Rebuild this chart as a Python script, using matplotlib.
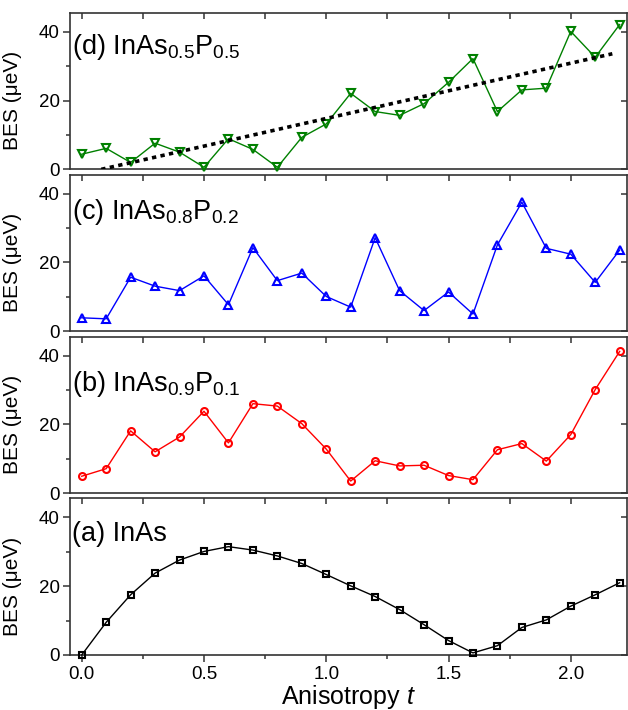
import matplotlib
matplotlib.use('Agg')
import matplotlib.pyplot as plt
from matplotlib.ticker import MultipleLocator

plt.rcParams['font.family'] = ['Liberation Sans', 'DejaVu Sans']
plt.rcParams['mathtext.fontset'] = 'custom'
plt.rcParams['mathtext.rm'] = 'Liberation Sans'
plt.rcParams['mathtext.it'] = 'Liberation Sans:italic'

# anisotropy t, 0.0 ... 2.2
t = [0.0, 0.1, 0.2, 0.3, 0.4, 0.5, 0.6, 0.7, 0.8, 0.9, 1.0, 1.1,
     1.2, 1.3, 1.4, 1.5, 1.6, 1.7, 1.8, 1.9, 2.0, 2.1, 2.2]

bes_a = [0.0, 9.5, 17.5, 23.8, 27.6, 30.1, 31.5, 30.5, 28.8, 26.6, 23.4, 20.1,
         17.0, 13.2, 8.8, 4.2, 0.6, 2.7, 8.0, 10.2, 14.2, 17.5, 21.0]
bes_b = [4.9, 7.1, 18.1, 12.0, 16.3, 23.8, 14.6, 26.0, 25.3, 20.2, 12.8, 3.5,
         9.4, 7.9, 8.1, 5.1, 3.9, 12.6, 14.4, 9.3, 17.0, 30.1, 41.2]
bes_c = [3.9, 3.6, 15.7, 13.1, 11.8, 16.1, 7.7, 24.3, 14.7, 16.9, 10.1, 7.0,
         27.2, 11.8, 6.0, 11.4, 5.0, 25.1, 37.5, 24.1, 22.4, 14.2, 23.6]
bes_d = [4.4, 6.1, 2.0, 7.6, 5.0, 0.6, 8.9, 5.8, 0.6, 9.3, 13.2, 22.1,
         16.8, 15.7, 19.1, 25.3, 32.2, 16.8, 23.1, 23.6, 40.1, 32.6, 42.1]

# linear trend in panel (d)
fit_t = [0.08, 2.17]
fit_bes = [0.0, 33.6]

labels = ['(a) InAs',
          r'(b) InAs$_{0.9}$P$_{0.1}$',
          r'(c) InAs$_{0.8}$P$_{0.2}$',
          r'(d) InAs$_{0.5}$P$_{0.5}$']

fig = plt.figure(figsize=(6.28, 7.10), dpi=100)

left = 69.5 / 628
width = 557.5 / 628
h = 0.2204
gap = 0.0076
bottom0 = 0.0775

series = [
    (bes_a, 'k', 's', 4.6, 0.729),
    (bes_b, '#ff0000', 'o', 5.0, 0.655),
    (bes_c, '#0000ff', '^', 6.3, 0.719),
    (bes_d, '#008000', 'v', 6.3, 0.738),
]

axes = []
for i, (y, col, mk, ms, ylab) in enumerate(series):
    ax = fig.add_axes([left, bottom0 + i * (h + gap), width, h])
    ax.plot(t, y, color=col, lw=1.0, marker=mk, ms=ms, mfc='none',
            mec=col, mew=1.5, clip_on=False, zorder=3)
    ax.set_xlim(-0.05, 2.23)
    ax.set_ylim(0, 45.5)
    ax.xaxis.set_major_locator(MultipleLocator(0.5))
    ax.xaxis.set_minor_locator(MultipleLocator(0.25))
    ax.yaxis.set_major_locator(MultipleLocator(20))
    ax.yaxis.set_minor_locator(MultipleLocator(10))
    for s in ax.spines.values():
        s.set_linewidth(1.2)
        s.set_color('#333333')
    ax.tick_params(axis='y', which='both', left=True, right=False,
                   direction='out', labelsize=13.5, pad=2, color='#333333')
    ax.tick_params(axis='y', which='major', length=5, width=1.1)
    ax.tick_params(axis='y', which='minor', length=3, width=1.1)
    ax.tick_params(axis='x', which='both', top=False, bottom=(i == 0),
                   labelbottom=(i == 0), direction='out', labelsize=13.5,
                   pad=3, color='#333333', width=1.1)
    ax.tick_params(axis='x', which='major', length=5)
    ax.tick_params(axis='x', which='minor', length=3)
    # inward ticks along the top and right edges
    sec = ax.secondary_xaxis('top')
    sec.xaxis.set_major_locator(MultipleLocator(0.25))
    sec.tick_params(direction='in', length=4, width=1.1, labeltop=False,
                    color='#333333')
    sec.spines['top'].set_visible(False)
    secy = ax.secondary_yaxis('right')
    secy.yaxis.set_major_locator(MultipleLocator(20))
    secy.tick_params(direction='in', length=4, width=1.1, labelright=False,
                     color='#333333')
    secy.spines['right'].set_visible(False)
    ax.set_ylabel('BES (μeV)', fontsize=15, labelpad=4)
    ax.yaxis.set_label_coords(-0.085, 0.44)
    ax.text(0.004, ylab, labels[i], transform=ax.transAxes, fontsize=19.5,
            ha='left', va='baseline')
    axes.append(ax)

axes[3].plot(fit_t, fit_bes, color='k', lw=2.6, linestyle=(0, (1.2, 1.2)),
             zorder=4)
axes[0].set_xlabel('Anisotropy $t$', fontsize=18, labelpad=0)

fig.savefig('out.png', dpi=100)
